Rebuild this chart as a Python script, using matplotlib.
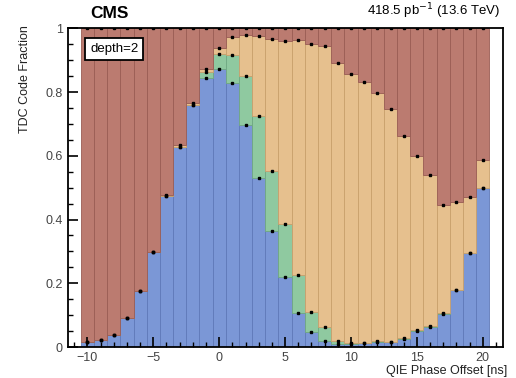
import matplotlib
matplotlib.use("Agg")
import matplotlib.pyplot as plt
from matplotlib.ticker import MultipleLocator
import numpy as np

plt.rcParams['font.family'] = ['Liberation Sans', 'DejaVu Sans']

# QIE phase offset bins [ns]
phase = list(range(-10, 21))
# cumulative tops of each TDC code fraction (stacked)
blue_top = [0.016, 0.023, 0.039, 0.091, 0.177, 0.298, 0.475, 0.627, 0.758, 0.845,
            0.871, 0.827, 0.698, 0.531, 0.365, 0.219, 0.107, 0.046, 0.019, 0.008,
            0.009, 0.011, 0.017, 0.016, 0.026, 0.051, 0.064, 0.105, 0.179, 0.294, 0.499]
green_top = [0.016, 0.023, 0.039, 0.091, 0.177, 0.298, 0.475, 0.629, 0.760, 0.863,
             0.920, 0.915, 0.850, 0.725, 0.551, 0.387, 0.226, 0.111, 0.064, 0.019,
             0.011, 0.012, 0.018, 0.017, 0.027, 0.052, 0.065, 0.106, 0.180, 0.295, 0.500]
yellow_top = [0.016, 0.023, 0.039, 0.091, 0.177, 0.298, 0.476, 0.633, 0.765, 0.873,
              0.937, 0.972, 0.978, 0.975, 0.968, 0.960, 0.963, 0.952, 0.946, 0.892,
              0.857, 0.831, 0.797, 0.748, 0.662, 0.598, 0.540, 0.447, 0.454, 0.471, 0.586]

x = np.array(phase, dtype=float)
b = np.array(blue_top)
g = np.array(green_top)
yv = np.array(yellow_top)

c_blue = "#7b97d6"
c_green = "#8fc9a0"
c_yel = "#e6c08e"
c_red = "#bb7b70"

fig = plt.figure(figsize=(5.16, 3.78), dpi=100)
ax = fig.add_axes([0.131, 0.082, 0.843, 0.843])

w = 1.0
ax.bar(x, b, width=w, color=c_blue, edgecolor="#5f79b8", linewidth=0.6)
ax.bar(x, g - b, bottom=b, width=w, color=c_green, edgecolor="#6fa882", linewidth=0.6)
ax.bar(x, yv - g, bottom=g, width=w, color=c_yel, edgecolor="#c9a06c", linewidth=0.6)
ax.bar(x, 1 - yv, bottom=yv, width=w, color=c_red, edgecolor="#9a5d54", linewidth=0.6)

for arr in (b, g, yv, np.ones_like(yv)):
    ax.plot(x, arr, ls="none", marker="s", ms=1.8, color="black")

ax.set_xlim(-11.5, 21.5)
ax.set_ylim(0, 1)
ax.xaxis.set_major_locator(MultipleLocator(5))
ax.xaxis.set_minor_locator(MultipleLocator(1))
ax.set_yticks([0, 0.2, 0.4, 0.6, 0.8, 1.0])
ax.yaxis.set_minor_locator(MultipleLocator(0.05))
ax.set_yticklabels(["0", "0.2", "0.4", "0.6", "0.8", "1"])
ax.tick_params(which="both", direction="in", labelsize=9, colors="black",
               labelcolor="#444444")
ax.tick_params(which="major", length=7, width=1.2)
ax.tick_params(which="minor", length=3.5, width=1.0)
for s in ax.spines.values():
    s.set_linewidth(1.3)

ax.set_ylabel("TDC Code Fraction", fontsize=9, ha="right", color="#222222")
ax.yaxis.set_label_coords(-0.085, 1.01)
ax.set_xlabel("QIE Phase Offset [ns]", fontsize=9, loc="right", labelpad=1,
              color="#222222")
ax.xaxis.set_label_coords(1.01, -0.055)

fig.text(0.174, 0.945, "CMS", fontsize=12.5, fontweight="bold", ha="left", va="bottom")
fig.text(0.97, 0.945, r"418.5 pb$^{-1}$ (13.6 TeV)", fontsize=9.5, ha="right", va="bottom")

ax.text(-9.8, 0.935, "depth=2", fontsize=9.5, ha="left", va="center",
        bbox=dict(boxstyle="square,pad=0.35", fc="white", ec="black", lw=1.3))

fig.savefig("out.png", dpi=100)
